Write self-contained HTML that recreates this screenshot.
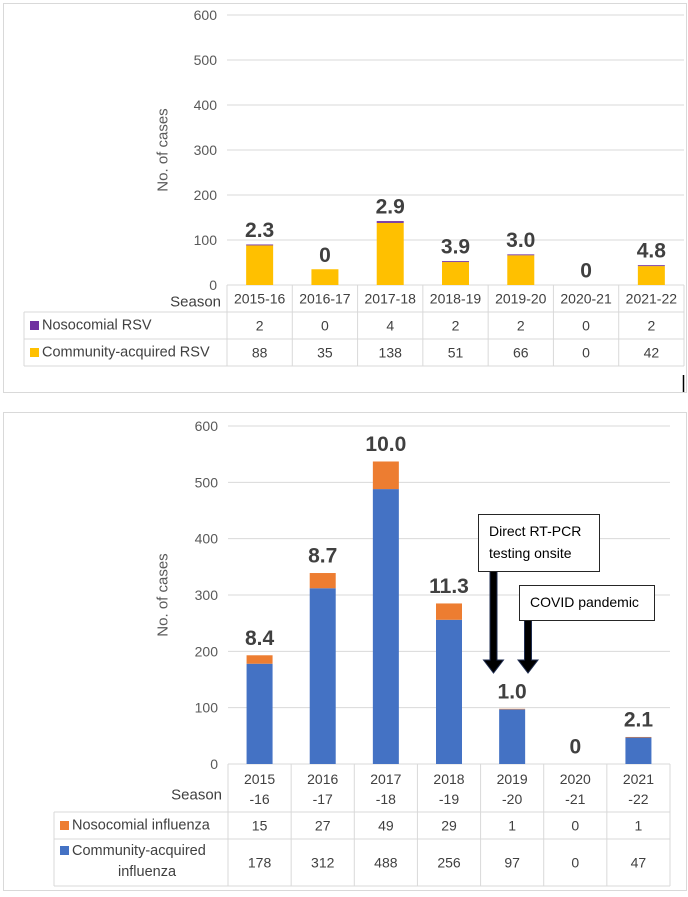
<!DOCTYPE html>
<html><head><meta charset="utf-8">
<style>
html,body{margin:0;padding:0;background:#fff;}
body{width:688px;height:897px;overflow:hidden;position:relative;font-family:"Liberation Sans",sans-serif;}
svg{position:absolute;left:0;top:0;}
</style></head>
<body>
<svg id="s" width="688" height="897" xmlns="http://www.w3.org/2000/svg"></svg>
<script>
const seasonsA = ["2015-16","2016-17","2017-18","2018-19","2019-20","2020-21","2021-22"];
const rsvNoso = [2,0,4,2,2,0,2];
const rsvComm = [88,35,138,51,66,0,42];
const rsvLabels = ["2.3","0","2.9","3.9","3.0","0","4.8"];
const fluSeason1 = ["2015","2016","2017","2018","2019","2020","2021"];
const fluSeason2 = ["-16","-17","-18","-19","-20","-21","-22"];
const fluNoso = [15,27,49,29,1,0,1];
const fluComm = [178,312,488,256,97,0,47];
const fluLabels = ["8.4","8.7","10.0","11.3","1.0","0","2.1"];
const yTicks = [0,100,200,300,400,500,600];

const svg = document.getElementById('s');
const NS = "http://www.w3.org/2000/svg";
function mk(tag, attrs, parent){
  const e = document.createElementNS(NS, tag);
  for (const k in attrs) e.setAttribute(k, attrs[k]);
  (parent||svg).appendChild(e);
  return e;
}
function txt(str, x, y, size, fill, weight, anchor, parent){
  const t = mk('text', {x:x, y:y, 'font-size':size, fill:fill, 'font-weight':weight||'normal', 'text-anchor':anchor||'middle', 'dominant-baseline':'central', 'font-family':'"Liberation Sans",sans-serif'}, parent);
  t.textContent = str;
  return t;
}

function panel(cfg){
  const g = mk('g', {});
  
  
  const fr = mk('rect', {x:cfg.box[0]+0.5, y:cfg.box[1]+0.5, width:cfg.box[2], height:cfg.box[3], fill:'none', stroke:'#d9d9d9'}, g);
  
  
  const x0 = cfg.x0, x1 = cfg.x1, yT = cfg.yTop, yB = cfg.yBot;
  const ys = v => yB - v/600*(yB-yT);
  const cw = (x1-x0)/cfg.cats.length;
  const xc = i => x0 + cw*(i+0.5);
  yTicks.forEach(v => {
    const l = mk('line', {x1:x0, x2:x1, y1:ys(v), y2:ys(v), stroke:'#d9d9d9', 'stroke-width':1}, g);
    
    
    const t = txt(String(v), x0-10, ys(v), 14, '#595959', 'normal', 'end', g);
    
    
  });
  const at = txt('No. of cases', 0, 0, 15, '#595959', 'normal', 'middle', g);
  at.setAttribute('transform', 'translate(' + cfg.axX + ',' + ((yT+yB)/2) + ') rotate(-90)');
  
  
  const bw = cfg.bw;
  cfg.cats.forEach((c, i) => {
    const hC = cfg.comm[i], hN = cfg.noso[i];
    const b1 = mk('rect', {x:xc(i)-bw/2, y:ys(hC), width:bw, height:yB-ys(hC), fill:cfg.cCol}, g);
    
    
    const b2 = mk('rect', {x:xc(i)-bw/2, y:ys(hC+hN), width:bw, height:ys(hC)-ys(hC+hN), fill:cfg.nCol}, g);
    
    
    const lb = txt(cfg.labels[i], xc(i), ys(hC+hN)-cfg.lblOff, 21, '#404040', 'bold', 'middle', g);
    
    
  });
  // table
  const tb = cfg.table;
  const rows = [yB, tb.r1, tb.r2, tb.r3];
  const tg = '#d9d9d9';
  mk('line', {x1:tb.left, x2:x1, y1:tb.r1, y2:tb.r1, stroke:tg}, g);
  mk('line', {x1:tb.left, x2:x1, y1:tb.r2, y2:tb.r2, stroke:tg}, g);
  mk('line', {x1:tb.left, x2:x1, y1:tb.r3, y2:tb.r3, stroke:tg}, g);
  mk('line', {x1:tb.left, x2:tb.left, y1:tb.r1, y2:tb.r3, stroke:tg}, g);
  for (let i=0;i<=cfg.cats.length;i++){
    mk('line', {x1:x0+cw*i, x2:x0+cw*i, y1:yB, y2:tb.r3, stroke:tg}, g);
  }
  const sl = txt('Season', x0-6, tb.seasonY, 15, '#404040', 'normal', 'end', g);
  
  
  cfg.cats.forEach((c, i) => {
    if (cfg.cats2) {
      txt(c, xc(i), yB+15, 14, '#404040', 'normal', 'middle', g);
      txt(cfg.cats2[i], xc(i), yB+35, 14, '#404040', 'normal', 'middle', g);
    } else {
      const cl = txt(c, xc(i), (yB+tb.r1)/2, 14, '#404040', 'normal', 'middle', g);
      
      
    }
    const n1 = txt(String(cfg.noso[i]), xc(i), (tb.r1+tb.r2)/2, 14, '#404040', 'normal', 'middle', g);
    
    
    const n2 = txt(String(cfg.comm[i]), xc(i), (tb.r2+tb.r3)/2, 14, '#404040', 'normal', 'middle', g);
    
    
  });
  const m1 = mk('rect', {x:tb.left+6, y:(tb.r1+tb.r2)/2-4.5+tb.m1dy, width:9, height:9, fill:cfg.nCol}, g);
  
  
  const l1 = txt(cfg.nName, tb.left+18, (tb.r1+tb.r2)/2, 14.5, '#404040', 'normal', 'start', g);
  
  
  const m2 = mk('rect', {x:tb.left+6, y:(tb.r2+tb.r3)/2-4.5+tb.m2dy, width:9, height:9, fill:cfg.cCol}, g);
  
  
  if (cfg.cName2) {
    txt(cfg.cName, tb.left+18, tb.r2+12, 14.5, '#404040', 'normal', 'start', g);
    txt(cfg.cName2, tb.left+93, tb.r2+33, 14.5, '#404040', 'normal', 'middle', g);
  } else {
    const l2 = txt(cfg.cName, tb.left+18, (tb.r2+tb.r3)/2, 14.5, '#404040', 'normal', 'start', g);
    
    
  }
}

panel({name:'rsv-chart', box:[3,3,683,389], x0:227, x1:684, yTop:15, yBot:285, axX:163,
  cats:seasonsA, noso:rsvNoso, comm:rsvComm, labels:rsvLabels, bw:27, lblOff:14,
  cCol:'#ffc000', nCol:'#7030a0', nName:'Nosocomial RSV', cName:'Community-acquired RSV',
  table:{left:24, r1:312, r2:339, r3:366, seasonY:302, m1dy:0, m2dy:0}});

panel({name:'influenza-chart', box:[3,412,683,478], x0:228, x1:670, yTop:426, yBot:764, axX:163,
  cats:fluSeason1, cats2:fluSeason2, noso:fluNoso, comm:fluComm, labels:fluLabels, bw:26, lblOff:17,
  cCol:'#4472c4', nCol:'#ed7d31', nName:'Nosocomial influenza', cName:'Community-acquired', cName2:'influenza',
  table:{left:54, r1:812, r2:839, r3:886, seasonY:795, m1dy:0, m2dy:-12}});

// annotations
const ann = mk('g', {});


function arrow(x, yTop, yTip, name){
  const p = mk('polygon', {points:[x-3.5,yTop, x+3.5,yTop, x+3.5,yTip-13, x+10,yTip-13, x,yTip, x-10,yTip-13, x-3.5,yTip-13].join(' '), fill:'#000', stroke:'#1f2d50', 'stroke-width':1}, ann);
  
  
}
arrow(493.5, 571, 673, 'arrow-rt-pcr');
arrow(528, 620, 673, 'arrow-covid');
const b1 = mk('rect', {x:478.5, y:514.5, width:121, height:57, fill:'#fff', stroke:'#262626', 'stroke-width':1}, ann);


txt('Direct RT-PCR', 489, 531, 14, '#000', 'normal', 'start', ann);
txt('testing onsite', 489, 553, 14, '#000', 'normal', 'start', ann);
const b2 = mk('rect', {x:519.5, y:585.5, width:135, height:35, fill:'#fff', stroke:'#262626', 'stroke-width':1}, ann);


txt('COVID pandemic', 530, 602, 14, '#000', 'normal', 'start', ann);
const tick = mk('line', {x1:683.5, x2:683.5, y1:375, y2:392, stroke:'#000', 'stroke-width':1.5}, ann);


</script>
</body></html>
